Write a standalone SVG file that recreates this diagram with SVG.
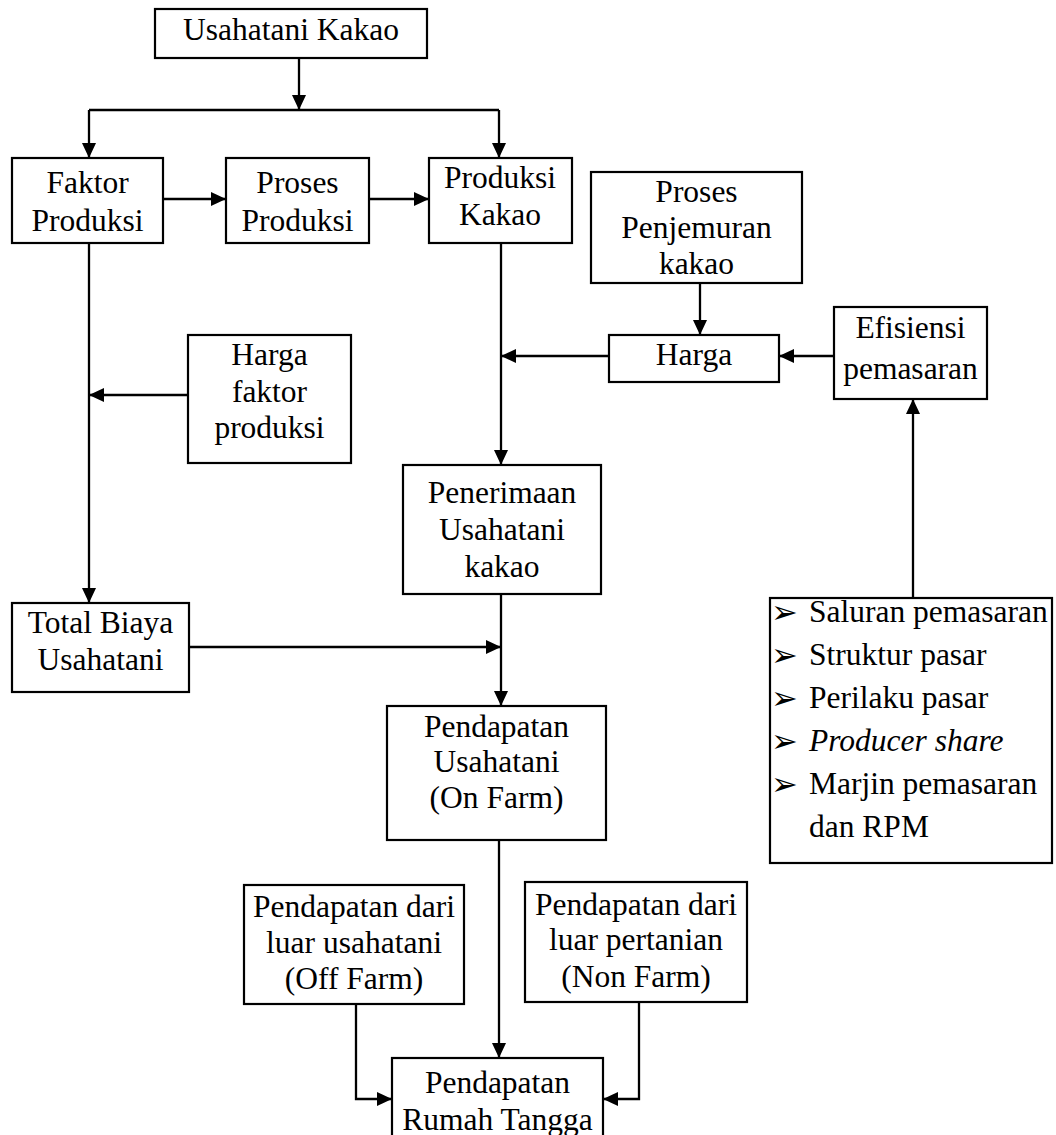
<svg xmlns="http://www.w3.org/2000/svg" width="1056" height="1135" viewBox="0 0 1056 1135">
<style>
  .box { fill: #fff; stroke: #000; stroke-width: 2.2; }
  .t { font-family: "Liberation Serif", "Times New Roman", serif; font-size: 31.5px; fill: #000; text-anchor: middle; }
  .l { font-family: "Liberation Serif", "Times New Roman", serif; font-size: 31.5px; fill: #000; }
  .b { font-family: "DejaVu Sans", sans-serif; font-size: 32px; fill: #000; }
  .c { fill: none; stroke: #000; stroke-width: 2.3; }
  .ca { fill: none; stroke: #000; stroke-width: 2.3; marker-end: url(#ah); }
</style>
<defs>
  <marker id="ah" markerUnits="userSpaceOnUse" markerWidth="15" markerHeight="14" refX="15" refY="7" orient="auto">
    <path d="M0,0 L15,7 L0,14 Z" fill="#000"/>
  </marker>
</defs>
<rect width="1056" height="1135" fill="#fff"/>

<g id="connectors">
  <line class="ca" x1="299" y1="58" x2="299" y2="110"/>
  <polyline class="c" points="89,110 499,110"/>
  <line class="ca" x1="89" y1="110" x2="89" y2="158"/>
  <line class="ca" x1="499" y1="110" x2="499" y2="158"/>
  <line class="ca" x1="163" y1="199" x2="226" y2="199"/>
  <line class="ca" x1="369" y1="199" x2="429" y2="199"/>
  <line class="ca" x1="700" y1="283" x2="700" y2="335"/>
  <line class="ca" x1="834" y1="356" x2="779" y2="356"/>
  <line class="ca" x1="609" y1="356" x2="501" y2="356"/>
  <line class="ca" x1="501" y1="243" x2="501" y2="465"/>
  <line class="ca" x1="188" y1="395" x2="89" y2="395"/>
  <line class="ca" x1="89" y1="243" x2="89" y2="603"/>
  <line class="ca" x1="189" y1="647" x2="501" y2="647"/>
  <line class="ca" x1="501" y1="594" x2="501" y2="706"/>
  <line class="ca" x1="499" y1="840" x2="499" y2="1058"/>
  <polyline class="ca" points="356,1004 356,1099 392,1099"/>
  <polyline class="ca" points="639,1002 639,1099 603,1099"/>
  <line class="ca" x1="913" y1="598" x2="913" y2="399"/>
</g>

<g id="usahatani-kakao">
  <rect class="box" x="155" y="9" width="272" height="49"/>
  <text class="t" x="291" y="40">Usahatani Kakao</text>
</g>
<g id="faktor-produksi">
  <rect class="box" x="12" y="158" width="151" height="85"/>
  <text class="t" x="87.5" y="193">Faktor</text>
  <text class="t" x="87.5" y="231">Produksi</text>
</g>
<g id="proses-produksi">
  <rect class="box" x="226" y="158" width="143" height="85"/>
  <text class="t" x="297.5" y="193">Proses</text>
  <text class="t" x="297.5" y="231">Produksi</text>
</g>
<g id="produksi-kakao">
  <rect class="box" x="429" y="158" width="143" height="85"/>
  <text class="t" x="500" y="188">Produksi</text>
  <text class="t" x="500" y="225">Kakao</text>
</g>
<g id="proses-penjemuran">
  <rect class="box" x="591" y="172" width="211" height="111"/>
  <text class="t" x="696.5" y="202">Proses</text>
  <text class="t" x="696.5" y="238">Penjemuran</text>
  <text class="t" x="696.5" y="274">kakao</text>
</g>
<g id="harga">
  <rect class="box" x="609" y="335" width="170" height="47"/>
  <text class="t" x="694" y="365">Harga</text>
</g>
<g id="efisiensi-pemasaran">
  <rect class="box" x="834" y="307" width="153" height="92"/>
  <text class="t" x="910.5" y="338">Efisiensi</text>
  <text class="t" x="910.5" y="379">pemasaran</text>
</g>
<g id="harga-faktor-produksi">
  <rect class="box" x="188" y="335" width="163" height="128"/>
  <text class="t" x="269.5" y="365">Harga</text>
  <text class="t" x="269.5" y="402">faktor</text>
  <text class="t" x="269.5" y="438">produksi</text>
</g>
<g id="penerimaan-usahatani">
  <rect class="box" x="403" y="465" width="198" height="129"/>
  <text class="t" x="502" y="503">Penerimaan</text>
  <text class="t" x="502" y="540">Usahatani</text>
  <text class="t" x="502" y="577">kakao</text>
</g>
<g id="total-biaya">
  <rect class="box" x="12" y="603" width="177" height="89"/>
  <text class="t" x="100.5" y="633">Total Biaya</text>
  <text class="t" x="100.5" y="670">Usahatani</text>
</g>
<g id="pendapatan-usahatani">
  <rect class="box" x="387" y="706" width="219" height="134"/>
  <text class="t" x="496.5" y="737">Pendapatan</text>
  <text class="t" x="496.5" y="772">Usahatani</text>
  <text class="t" x="496.5" y="808">(On Farm)</text>
</g>
<g id="off-farm">
  <rect class="box" x="244" y="885" width="220" height="119"/>
  <text class="t" x="354" y="917">Pendapatan dari</text>
  <text class="t" x="354" y="953">luar usahatani</text>
  <text class="t" x="354" y="989">(Off Farm)</text>
</g>
<g id="non-farm">
  <rect class="box" x="525" y="882" width="222" height="120"/>
  <text class="t" x="636" y="915">Pendapatan dari</text>
  <text class="t" x="636" y="950">luar pertanian</text>
  <text class="t" x="636" y="987">(Non Farm)</text>
</g>
<g id="pendapatan-rumah-tangga">
  <rect class="box" x="392" y="1058" width="211" height="100"/>
  <text class="t" x="497.5" y="1093">Pendapatan</text>
  <text class="t" x="497.5" y="1130">Rumah Tangga</text>
</g>
<g id="indikator-pemasaran">
  <rect class="box" x="770" y="598" width="282" height="265"/>
  <text class="b" x="771" y="623">➢</text>
  <text class="l" x="809" y="622">Saluran pemasaran</text>
  <text class="b" x="771" y="666">➢</text>
  <text class="l" x="809" y="665">Struktur pasar</text>
  <text class="b" x="771" y="709">➢</text>
  <text class="l" x="809" y="708">Perilaku pasar</text>
  <text class="b" x="771" y="752">➢</text>
  <text class="l" x="809" y="751" font-style="italic">Producer share</text>
  <text class="b" x="771" y="795">➢</text>
  <text class="l" x="809" y="794">Marjin pemasaran</text>
  <text class="l" x="809" y="837">dan RPM</text>
</g>
</svg>
